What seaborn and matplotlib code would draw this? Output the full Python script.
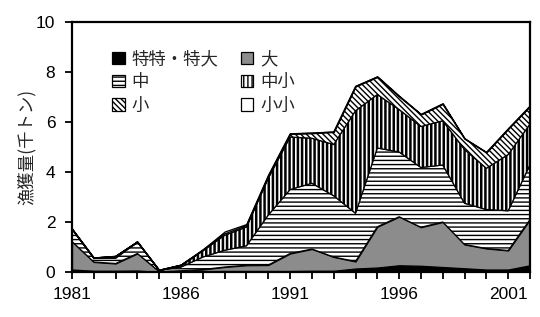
import numpy as np
import pandas as pd
import matplotlib
matplotlib.use("Agg")
import matplotlib.pyplot as plt
from matplotlib.patches import Patch
import seaborn as sns

years = list(range(1981, 2003))
xtick_labels = [str(y) if (y - 1981) % 5 == 0 else "" for y in years]

series_names = ["特特・特大", "大", "中", "中小", "小", "小小"]
tokutoku = [0.10, 0.05, 0.05, 0.06, 0.00, 0.02, 0.03, 0.04, 0.04, 0.04, 0.04,
            0.05, 0.05, 0.14, 0.18, 0.27, 0.25, 0.20, 0.15, 0.10, 0.10, 0.27]
dai = [1.12, 0.35, 0.29, 0.68, 0.02, 0.03, 0.07, 0.16, 0.23, 0.24, 0.70,
       0.87, 0.55, 0.28, 1.63, 1.94, 1.54, 1.80, 0.95, 0.84, 0.76, 1.83]
chu = [0.50, 0.15, 0.21, 0.46, 0.05, 0.15, 0.50, 0.67, 0.78, 2.00, 2.56,
       2.63, 2.45, 1.93, 3.15, 2.59, 2.39, 2.28, 1.65, 1.56, 1.59, 2.19]
chusho = [0.00, 0.01, 0.07, 0.00, 0.00, 0.07, 0.25, 0.60, 0.75, 1.47, 2.10,
          1.80, 2.05, 4.10, 2.14, 1.70, 1.64, 1.77, 2.15, 1.65, 2.25, 1.63]
sho = [0.00, 0.00, 0.00, 0.00, 0.00, 0.00, 0.03, 0.08, 0.07, 0.10, 0.12,
       0.20, 0.50, 0.97, 0.70, 0.52, 0.48, 0.67, 0.43, 0.63, 1.02, 0.71]
shosho = [0.02, 0.02, 0.03, 0.02, 0.01, 0.03, 0.02, 0.07, 0.05, 0.03, 0.03,
          0.03, 0.02, 0.03, 0.03, 0.03, 0.02, 0.03, 0.02, 0.02, 0.03, 0.03]

sns.set_style("ticks")
plt.rcParams["font.family"] = ["Liberation Sans", "Noto Sans CJK JP", "DejaVu Sans"]
plt.rcParams["hatch.linewidth"] = 1.0
plt.rcParams["hatch.color"] = "black"

df = pd.DataFrame({"year": years, "特特・特大": tokutoku, "大": dai, "中": chu,
                   "中小": chusho, "小": sho, "小小": shosho})

fig = plt.figure(figsize=(5.4, 3.17), dpi=100)
ax = fig.add_axes([72 / 540, 45 / 317, 458 / 540, 250 / 317])

facecolors = ["black", "#8c8c8c", "white", "white", "white", "white"]
hatches = [None, None, "----", "||||", "\\\\\\\\\\\\", None]
hatch_lw = [1.0, 1.0, 1.0, 1.8, 1.0, 1.0]

polys = ax.stackplot(df["year"], *[df[n] for n in series_names],
                     colors=facecolors, edgecolor="black", linewidth=0.9)
for p, h, lw in zip(polys, hatches, hatch_lw):
    if h:
        p.set_hatch(h)
        try:
            p.set_hatch_linewidth(lw)
        except Exception:
            pass

ax.set_xlim(1981, 2002)
ax.set_ylim(0, 10)
ax.set_yticks([0, 2, 4, 6, 8, 10])
ax.set_xticks(years, labels=xtick_labels)
ax.tick_params(axis="both", direction="out", length=5, width=1.3, labelsize=12.5,
               colors="black")
ax.tick_params(axis="y", pad=7)
ax.tick_params(axis="x", pad=6)
for s in ax.spines.values():
    s.set_visible(True)
    s.set_linewidth(1.6)
    s.set_color("black")

ax.set_ylabel("漁獲量(千トン)", fontsize=12.5, family=["Noto Sans CJK JP", "DejaVu Sans"])
ax.yaxis.set_label_coords(-0.078, 0.5)

handles = []
for c, h, lw in zip(facecolors, hatches, hatch_lw):
    hp = Patch(facecolor=c, edgecolor="black", hatch=h, linewidth=0.9)
    try:
        hp.set_hatch_linewidth(lw)
    except Exception:
        pass
    handles.append(hp)
order = [0, 2, 4, 1, 3, 5]
leg = ax.legend([handles[i] for i in order], [series_names[i] for i in order],
                ncol=2, loc="upper left", bbox_to_anchor=(0.054, 0.95),
                frameon=False, handlelength=0.7, handleheight=0.7,
                handletextpad=0.4, columnspacing=1.3, labelspacing=0.3,
                prop={"family": ["Noto Sans CJK JP", "DejaVu Sans"], "size": 12.5})

fig.savefig("out.png", dpi=100)
